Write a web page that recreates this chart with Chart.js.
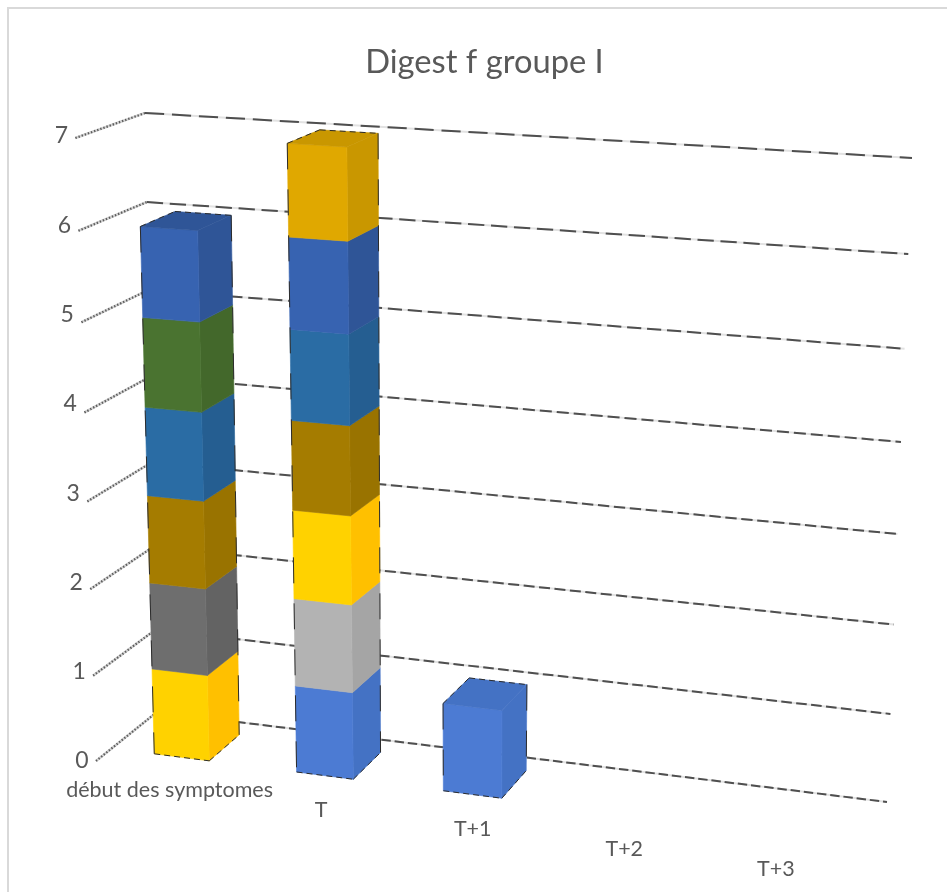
<!DOCTYPE html>
<html>
<head>
<meta charset="utf-8">
<style>
  html, body { margin: 0; padding: 0; background: #fff; }
  #wrap { position: relative; width: 947px; height: 892px; overflow: hidden; }
  canvas { display: block; filter: blur(0.45px); }
</style>
<script src="https://cdn.jsdelivr.net/npm/chart.js@4/dist/chart.umd.min.js"></script>
</head>
<body>
<div id="wrap"><canvas id="chart" width="947" height="892"></canvas></div>
<script>
const categories = ["début des symptomes", "T", "T+1", "T+2", "T+3"];
const seriesBlue = [0, 1, 1, 0, 0];
const seriesSilver = [0, 1, 0, 0, 0];
const seriesYellow = [1, 1, 0, 0, 0];
const seriesGrey = [1, 0, 0, 0, 0];
const seriesBrown = [1, 1, 0, 0, 0];
const seriesTeal = [1, 1, 0, 0, 0];
const seriesGreen = [1, 0, 0, 0, 0];
const seriesNavy = [1, 1, 0, 0, 0];
const seriesGold = [0, 1, 0, 0, 0];

const frontColors = ["#4c7bd3", "#b3b3b3", "#ffd200", "#6e6e6e", "#a57c00", "#2a6ca4", "#4a7330", "#3763b1", "#e0a800"];
const sideColors = ["#4472c4", "#a5a5a5", "#ffc000", "#636363", "#997300", "#255e91", "#43682b", "#2f5597", "#c99700"];
// dashes get longer towards the top of the back wall
const gridDashPeriod = [13.3, 15, 15.5, 16, 17, 20, 23, 27];

// where the 3d box sits on the page: back wall corners and the front edge of the side wall
const wall = { bl: [157, 712], br: [887, 802], tr: [912, 158], tl: [145, 113], frontBottom: [96, 761], frontTop: [77, 138] };
const barDepth = [0.25, 0.77];
const frontLean = 5;

function buildProjection() {
    const [x0, y0] = wall.bl, [x1, y1] = wall.br, [x2, y2] = wall.tr, [x3, y3] = wall.tl;
    const dx1 = x1 - x2, dx2 = x3 - x2, dy1 = y1 - y2, dy2 = y3 - y2;
    const sx = x0 - x1 + x2 - x3, sy = y0 - y1 + y2 - y3;
    const den = dx1 * dy2 - dx2 * dy1;
    const g = (sx * dy2 - dx2 * sy) / den;
    const h = (dx1 * sy - sx * dy1) / den;
    const U = [x1 - x0 + g * x1, y1 - y0 + g * y1, g];
    const V = [x3 - x0 + h * x3, y3 - y0 + h * y3, h];
    const O = [x0, y0, 1];
    const A = [wall.frontBottom[0], wall.frontBottom[1], 1];
    const lam = (wall.frontTop[1] * V[2] - V[1]) / (A[1] - wall.frontTop[1]);
    const W = [lam * A[0] - O[0], lam * A[1] - O[1], lam - 1];
    // s along categories, t along values, d 0 = front, 1 = back wall
    return (s, t, d) => {
        const k = 1 - d;
        const X = s * U[0] + t * V[0] + O[0] + k * W[0];
        const Y = s * U[1] + t * V[1] + O[1] + k * W[1];
        const Z = s * U[2] + t * V[2] + O[2] + k * W[2];
        return [X / Z - frontLean * t * k, Y / Z];
    };
}
const project = buildProjection();

function poly(ctx, pts, fill) {
    ctx.beginPath();
    pts.forEach((p, i) => i ? ctx.lineTo(p[0], p[1]) : ctx.moveTo(p[0], p[1]));
    ctx.closePath();
    ctx.fillStyle = fill;
    ctx.fill();
    ctx.strokeStyle = fill;
    ctx.lineWidth = 0.6;
    ctx.stroke();
}

function line(ctx, a, b, color, width, dash) {
    ctx.beginPath();
    ctx.moveTo(a[0], a[1]);
    ctx.lineTo(b[0], b[1]);
    ctx.strokeStyle = color;
    ctx.lineWidth = width;
    ctx.setLineDash(dash || []);
    ctx.stroke();
    ctx.setLineDash([]);
}

const box3d = {
    id: "box3d",
    beforeDatasetsDraw(chart) {
        const ctx = chart.ctx;
        const area = chart.chartArea;
        const xs = chart.scales.x, ys = chart.scales.y;
        const S = (px) => (px - area.left) / (area.right - area.left);
        const T = (py) => (area.bottom - py) / (area.bottom - area.top);

        ctx.save();
        // gridlines on the side wall and back wall
        ys.ticks.forEach((tick, i) => {
            const t = T(ys.getPixelForValue(tick.value));
            const period = gridDashPeriod[i];
            line(ctx, project(0, t, 0), project(0, t, 1), "#d2d2d2", 2.6);
            line(ctx, project(0, t, 0), project(0, t, 1), "#5c5c5c", 2.2, [1.4, 1.9]);
            line(ctx, project(0, t, 1), project(1, t, 1), "#e2e2e2", 2);
            line(ctx, project(0, t, 1), project(1, t, 1), "#4f4f4f", 2, [period * 0.71, period * 0.29]);
        });

        // value labels, evenly spaced between the two ends of the front edge
        ctx.fillStyle = "#595959";
        ctx.font = "23px Lato";
        ctx.textAlign = "center";
        ctx.textBaseline = "middle";
        const v0 = project(0, 0, 0), v1 = project(0, 1, 0);
        ys.ticks.forEach((tick) => {
            const t = T(ys.getPixelForValue(tick.value));
            ctx.fillText(tick.label, v0[0] + (v1[0] - v0[0]) * t - 14, v0[1] + (v1[1] - v0[1]) * t - 2 * t);
        });

        // category labels under the floor, evenly spaced as well
        ctx.font = "21.5px Lato";
        const c0 = project(S(xs.getPixelForValue(0)), 0, 0);
        const c1 = project(S(xs.getPixelForValue(categories.length - 1)), 0, 0);
        categories.forEach((c, i) => {
            const f = i / (categories.length - 1);
            ctx.fillText(c, c0[0] + (c1[0] - c0[0]) * f + 3, c0[1] + (c1[1] - c0[1]) * f + 20);
        });

        // stacked boxes, bottom to top
        const [d0, d1] = barDepth;
        categories.forEach((c, i) => {
            let outline = null;
            chart.data.datasets.forEach((ds, di) => {
                if (!ds.data[i]) return;
                const bar = chart.getDatasetMeta(di).data[i];
                const l = S(bar.x - bar.width / 2), r = S(bar.x + bar.width / 2);
                const lo = T(bar.base), hi = T(bar.y);
                poly(ctx, [project(r, lo, d0), project(r, lo, d1), project(r, hi, d1), project(r, hi, d0)], sideColors[di]);
                poly(ctx, [project(l, lo, d0), project(r, lo, d0), project(r, hi, d0), project(l, hi, d0)], frontColors[di]);
                if (!outline) outline = { l, r, lo };
                outline.hi = hi;
                outline.di = di;
            });
            if (!outline) return;
            const { l, r, lo, hi, di } = outline;
            poly(ctx, [project(l, hi, d0), project(r, hi, d0), project(r, hi, d1), project(l, hi, d1)], sideColors[di]);
            // broken dark edge round the box
            const edge = "#2b2b2b", dash = [26, 20];
            line(ctx, project(l, hi, d0), project(l, lo, d0), edge, 1, dash);
            line(ctx, project(r, hi, d1), project(r, lo, d1), edge, 1, dash);
            line(ctx, project(l, lo, d0), project(r, lo, d0), edge, 1, [6, 4]);
            line(ctx, project(r, lo, d0), project(r, lo, d1), edge, 1, [6, 4]);
            line(ctx, project(l, hi, d0), project(l, hi, d1), edge, 1, [6, 4]);
            line(ctx, project(l, hi, d1), project(r, hi, d1), edge, 1, [6, 4]);
        });
        ctx.restore();
        return false;
    },
    beforeDraw(chart) {
        // frame of the chart object, open on the right and at the bottom of the crop
        const ctx = chart.ctx;
        ctx.save();
        ctx.strokeStyle = "#d9d9d9";
        ctx.lineWidth = 2;
        ctx.strokeRect(8, 8, 1000, 1000);
        ctx.restore();
    }
};

const seriesValues = [seriesBlue, seriesSilver, seriesYellow, seriesGrey, seriesBrown, seriesTeal, seriesGreen, seriesNavy, seriesGold];

new Chart(document.getElementById("chart").getContext("2d"), {
    type: "bar",
    data: {
        labels: categories,
        datasets: seriesValues.map((data, i) => ({ data, backgroundColor: sideColors[i] }))
    },
    options: {
        responsive: false,
        animation: false,
        events: [],
        barPercentage: 1,
        categoryPercentage: 0.39,
        layout: { padding: { left: 22 } },
        scales: {
            x: { stacked: true, grid: { display: false }, border: { display: false }, ticks: { display: false } },
            y: { stacked: true, min: 0, max: 7, grid: { display: false }, border: { display: false }, ticks: { display: false, stepSize: 1 } }
        },
        plugins: {
            legend: { display: false },
            tooltip: { enabled: false },
            title: {
                display: true,
                text: "Digest f groupe I",
                color: "#595959",
                font: { family: "Lato", size: 32.7, weight: "normal" },
                padding: { top: 43, bottom: 10 }
            }
        }
    },
    plugins: [box3d]
});
</script>
</body>
</html>
